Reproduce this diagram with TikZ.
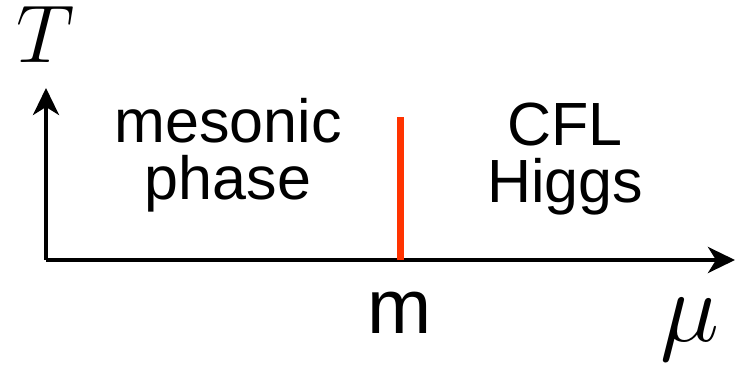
\RequirePackage{fix-cm}
\documentclass[tikz,border=0pt]{standalone}
\usepackage{amsmath,amssymb}
\usepackage{fontspec}
\setsansfont{Liberation Sans}
\usetikzlibrary{arrows.meta,positioning}
\definecolor{crossover}{RGB}{255,51,0}

\begin{document}
\begin{tikzpicture}[x=0.5pt,y=-0.5pt,
    axis/.style={line width=2pt,
      -{Stealth[length=13.5pt,width=13pt,inset=4pt]}},
    phase/.style={font=\sffamily\fontsize{30.5}{28.5}\selectfont,
      align=center,anchor=base,inner sep=0pt}]
  \useasboundingbox (0,0) rectangle (742,368);
  \coordinate (origin) at (46,260);
  \coordinate (tend) at (46,88);
  \coordinate (muend) at (735,260);
  \coordinate (mfoot) at (400,260);
  \coordinate (mtop) at (400,117);
  % axes
  \draw[axis] (origin) -- (tend);
  \draw[axis] (origin) -- (muend);
  \draw[crossover,line width=3.5pt] (mfoot) -- (mtop);
  % labels
  \node[anchor=base,inner sep=0pt] (tlabel) at (46,63)
    {\fontsize{41}{41}\selectfont$T$};
  \node[anchor=base,inner sep=0pt] (mulabel) at (690,341)
    {\fontsize{50}{50}\selectfont$\mu$};
  \node[anchor=base,inner sep=0pt,font=\sffamily\fontsize{38.5}{40}\selectfont]
    (mlabel) at (400,333) {m};
  \node[phase] (meson) at (228,200) {mesonic\\phase};
  \node[phase] (cfl) at (565,203) {CFL\\Higgs};
\end{tikzpicture}
\end{document}
